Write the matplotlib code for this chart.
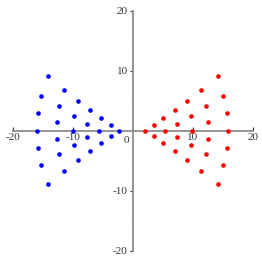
import matplotlib
matplotlib.use('Agg')
import matplotlib.pyplot as plt
from matplotlib.ticker import MultipleLocator, FixedLocator

# point coordinates
red_x = [2.1, 3.5, 3.5, 5.1, 5.4, 5.1, 7.0, 7.4, 7.4, 7.0,
         9.0, 9.7, 9.9, 9.7, 9.0, 11.4, 12.2, 12.6, 12.6, 12.2, 11.4,
         14.2, 15.1, 15.7, 15.8, 15.7, 15.1, 14.2]
red_y = [0.0, 0.95, -0.9, 2.05, 0.0, -2.0, 3.4, 1.2, -1.1, -3.3,
         5.0, 2.5, 0.0, -2.4, -4.9, 6.85, 4.05, 1.4, -1.3, -3.95, -6.75,
         9.05, 5.85, 2.95, 0.0, -2.85, -5.75, -8.95]
blue_x = [-2.2, -3.55, -3.55, -5.25, -5.55, -5.25, -7.1, -7.55, -7.55, -7.1,
          -9.1, -9.75, -10.0, -9.75, -9.1, -11.45, -12.3, -12.7, -12.7, -12.3, -11.45,
          -14.2, -15.3, -15.85, -15.95, -15.85, -15.3, -14.2]
blue_y = [0.0, 0.95, -0.9, 2.05, 0.0, -2.0, 3.4, 1.2, -1.1, -3.3,
          5.0, 2.5, 0.0, -2.4, -4.9, 6.85, 4.05, 1.4, -1.3, -3.95, -6.75,
          9.05, 5.85, 2.95, 0.0, -2.85, -5.75, -8.95]

x_ticks = [-20, -10, 10, 20]
y_ticks = [-20, -10, 10, 20]

plt.rcParams['font.family'] = ['Liberation Serif', 'DejaVu Serif']

fig = plt.figure(figsize=(2.62, 2.62), dpi=100)
ax = fig.add_axes([12.7 / 262, 11.3 / 262, 240 / 262, 240 / 262])

ax.scatter(red_x, red_y, s=11, color='#ff0000', linewidths=0, zorder=3)
ax.scatter(blue_x, blue_y, s=11, color='#0000ff', linewidths=0, zorder=3)

ax.set_xlim(-20, 20)
ax.set_ylim(-20, 20)

axis_col = '#8c8c8c'
for side in ['top', 'right']:
    ax.spines[side].set_visible(False)
ax.spines['left'].set_position(('data', 0))
ax.spines['bottom'].set_position(('data', 0))
for side in ['left', 'bottom']:
    ax.spines[side].set_color(axis_col)
    ax.spines[side].set_linewidth(1.3)

ax.xaxis.set_major_locator(FixedLocator(x_ticks))
ax.yaxis.set_major_locator(FixedLocator(y_ticks))
ax.xaxis.set_minor_locator(MultipleLocator(5))
ax.yaxis.set_minor_locator(MultipleLocator(5))
ax.tick_params(axis='x', which='major', direction='in', length=3, width=0.8,
               color='#333333', labelsize=8, pad=2)
ax.tick_params(axis='y', which='major', direction='out', length=2.5, width=0.8,
               color='#333333', labelsize=8, pad=1)
ax.tick_params(axis='x', which='minor', direction='in', length=1, width=0.8, color='#333333')
ax.tick_params(axis='y', which='minor', direction='out', length=1, width=0.8, color='#333333')
ax.set_xticklabels([str(v) for v in x_ticks])
ax.set_yticklabels([str(v) for v in y_ticks])
for lbl in ax.get_xticklabels() + ax.get_yticklabels():
    lbl.set_color('#333333')

ax.annotate('0', xy=(0, 0), xytext=(-2.5, -4), textcoords='offset points',
            ha='right', va='top', fontsize=8, color='#333333')

fig.savefig('out.png', dpi=100)
